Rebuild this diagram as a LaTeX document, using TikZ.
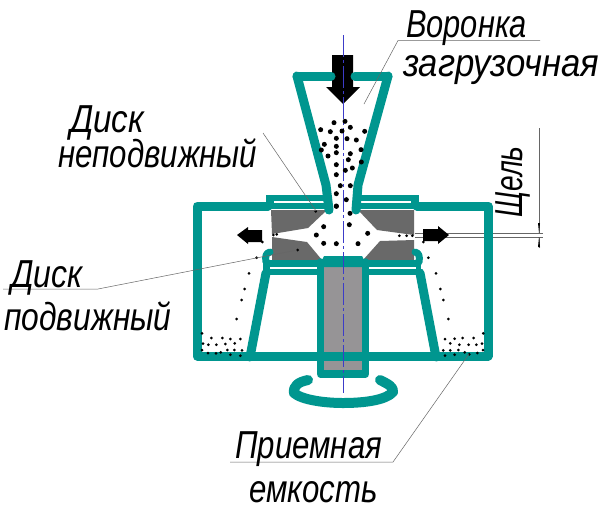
\documentclass[tikz,border=0pt]{standalone}
\usepackage{fontspec}
\setmainfont{Liberation Sans}
\definecolor{tealc}{RGB}{0,150,143}
\definecolor{grayd}{RGB}{105,105,105}
\definecolor{grays}{RGB}{150,148,150}
\definecolor{bluec}{RGB}{60,60,200}
\tikzset{
 wall/.style={draw=tealc,line width=9pt,line join=round,line cap=round},
 disk/.style={fill=grayd,draw=none},
 leader/.style={draw=black!60,line width=0.5pt},
 lab/.style={font=\itshape\fontsize{39}{39}\selectfont,inner sep=0pt,anchor=base west,transform shape,text=black},
 bigdot/.style={fill=black,draw=none},
}
\begin{document}
\begin{tikzpicture}[x=1pt,y=-1pt]
\useasboundingbox[fill=white] (0,0) rectangle (604,515);
% gray parts
\fill[disk] (271,210)--(327,210)--(308,228)--(272,234)--cycle;
\fill[disk] (358,210)--(414,210)--(414,235)--(377,230)--cycle;
\fill[disk] (272,237)--(307,242)--(322,260)--(272,260)--cycle;
\fill[disk] (414,240)--(380,241)--(363,260)--(414,260)--cycle;
\fill[grays] (322,266) rectangle (364,373);
% gap lines
\coordinate (g1) at (415,233); \coordinate (g2) at (543,233); \coordinate (g3) at (415,237); \coordinate (g4) at (543,237);
\draw[leader] (g1)--(g2) (g3)--(g4);
% black arrows
\fill[black] (332,55)--(353,55)--(353,87)--(360,87)--(343,104)--(326,87)--(332,87)--cycle;
\fill[black] (237,235)--(248,227)--(248,230)--(262,230)--(262,242)--(248,242)--(248,244)--cycle;
\fill[black] (449,235)--(438,226)--(438,229)--(423,229)--(423,241)--(438,241)--(438,244)--cycle;
% walls
\draw[wall] (268,206)--(197,206)--(197,356)--(488,356)--(488,206)--(417,206);
\draw[wall,line width=14pt,line cap=butt] (266,202)--(328,202);
\draw[wall,line width=14pt,line cap=butt] (357,202)--(419,202);
\draw[white,line width=1.3pt] (274,202)--(326,202) (358,202)--(411,202);
\draw[wall] (297,76)--(331,76) (355,76)--(388,76);
\draw[wall] (297,76)--(326,185)--(329,210);
\draw[wall] (388,76)--(358,185)--(356,210);
\draw[wall,line width=15pt,line cap=butt] (263,267.5)--(320,267.5);
\draw[wall,line width=15pt,line cap=butt] (366,267.5)--(421,267.5);
\draw[white,line width=1.3pt] (270,268)--(317,268) (368,268)--(416,268);
\fill[tealc] (322,260)--(324,256)--(362,256)--(364,260)--(364,267)--(322,267)--cycle;
\draw[wall,line width=7pt] (266,262) .. controls (265,256) and (266,253) .. (270,252);
\draw[wall,line width=7pt] (419,262) .. controls (420,256) and (419,253) .. (415,252);
\draw[wall] (266,273)--(250,357);
\draw[wall] (420,273)--(436,357);
\draw[wall,line width=7.5pt] (320.5,262)--(320.5,374)--(365.5,374)--(365.5,262);
\draw[wall,line width=10pt] (308,380) .. controls (298,382) and (293,386) .. (294,393) .. controls (302,400) and (325,403) .. (343,403) .. controls (365,403) and (386,400) .. (393,392) .. controls (394,387) and (388,384) .. (380,380);
% centre line
\draw[bluec,line width=0.6pt,dash pattern=on 22pt off 3pt on 3pt off 3pt] (343,35)--(343,393);
% dots
\begin{scope}[shift={(280,30)},scale=1/3]
\foreach \a/\b in {162/278,195/274,122/299,151/305,186/303,211/292,254/304,169/325,201/326,229/330,133/343,169/349,124/360,243/359,211/371,144/378,169/368,205/389,244/396,169/404,217/414,196/421,169/434,181/467,211/467,169/491,199/509,169/528}
 \fill[bigdot] (\a,\b) circle[radius=7.5];
\end{scope}
\begin{scope}[shift={(180,180)},scale=1/3]
\foreach \a/\b in {469/79,510/100,508/134,431/140,409/165,563/160,431/190,469/191,534/191}
 \fill[bigdot] (\a,\b) circle[radius=7.5];
\foreach \a/\b in {658/167,680/167,697/167,730/186,247/186,230/233,745/233,280/165,290/163,353/210,407/94}
 \fill[bigdot] (\a,\b) circle[radius=4.5];
\end{scope}
\begin{scope}[shift={(180,260)},scale=1/3]
\foreach \a/\b in {207/40,194/87,185/120,170/177,768/40,781/87,790/120,805/177,66/220,94/234,127/234,151/237,181/237,69/251,85/254,109/254,136/252,164/250,66/270,84/279,108/280,122/277,142/270,163/270,186/271,151/284,181/287,910/220,795/237,824/236,848/234,881/234,811/250,838/254,866/254,889/254,906/251,790/271,811/271,835/270,854/277,868/283,892/279,909/270,795/287,824/284}
 \fill[bigdot] (\a,\b) circle[radius=4.5];
\end{scope}
% leaders
\coordinate (v1) at (398,40.5); \coordinate (v2) at (540,40.5); \coordinate (vd) at (364,104);
\draw[leader] (v2)--(v1)--(vd);
\coordinate (n2) at (263,133); \coordinate (nd) at (316,211);
\draw[leader] (n2)--(nd);
\coordinate (p1) at (3,289); \coordinate (p2) at (98,289); \coordinate (pd) at (297,250);
\draw[leader] (p1)--(p2)--(pd);
\coordinate (e1) at (230,462); \coordinate (e2) at (393,462); \coordinate (ed) at (469,354);
\draw[leader] (e1)--(e2)--(ed);
% gap dimension
\coordinate (h1) at (539,128); \coordinate (h2) at (539,233); \coordinate (h3) at (539,248); \coordinate (h4) at (539,237);
\draw[leader] (h1)--(h2) (h3)--(h4);
\fill[black] (539,233)--(538,223)--(540,223)--cycle (539,237)--(538,247)--(540,247)--cycle;
% labels
\node[lab,xscale=0.79] (voronka) at (406,37) {Воронка};
\node[lab,xscale=0.89] (zagr) at (403,76) {загрузочная};
\node[lab,xscale=0.85] (disk1) at (70,132) {Диск};
\node[lab,xscale=0.80] (nepod) at (58,167) {неподвижный};
\node[lab,xscale=0.82] (disk2) at (11,287) {Диск};
\node[lab,xscale=0.815] (podv) at (4,330) {подвижный};
\node[lab,xscale=0.80] (prie) at (235,458) {Приемная};
\node[lab,xscale=0.80] (emk) at (249,502) {емкость};
\node[lab,rotate=90,xscale=0.72] (shch) at (522,218) {Щель};
\end{tikzpicture}
\end{document}
